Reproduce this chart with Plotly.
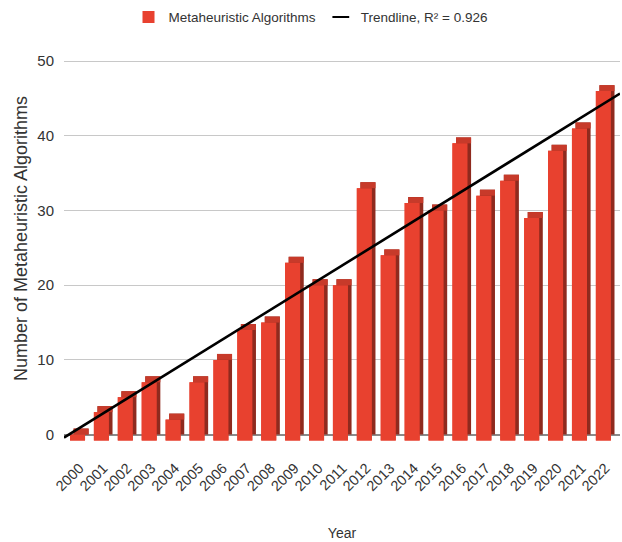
import numpy as np
import plotly.graph_objects as go

# Number of metaheuristic algorithms introduced per year
years = list(range(2000, 2023))
counts = [0, 3, 5, 7, 2, 7, 10, 14, 15, 23, 20, 20, 33, 24, 31, 30, 39, 32, 34, 29, 38, 41, 46]
y_ticks = [0, 10, 20, 30, 40, 50]

series_name = "Metaheuristic Algorithms"
trend_name = "Trendline, R\u00b2 = 0.926"
y_title = "Number of Metaheuristic Algorithms"

# pseudo-3D look: depth of the bar boxes
DEPTH_Y = 0.8
BAR_W = 0.63
FRONT = "#E8412F"
TOP = "#C73A2A"
SIDE = "#8F2A1E"

SANS = "Liberation Sans, Arial, Helvetica, sans-serif"
TXT = "#333333"

x_range = [1999.35, 2022.61]

# linear trend through the yearly counts
idx = np.arange(len(years))
slope, intercept = np.polyfit(idx, counts, 1)
tx = np.array(x_range)
ty = intercept + slope * (tx - years[0]) + DEPTH_Y

fig = go.Figure()

# front faces (legend entry)
fig.add_trace(go.Bar(
    x=years, y=[c + DEPTH_Y for c in counts], base=[-DEPTH_Y] * len(counts),
    width=BAR_W, offset=-0.40, marker=dict(color=FRONT, line=dict(width=0)),
    name=series_name, legendrank=1, hoverinfo="skip",
))
# right side faces
fig.add_trace(go.Bar(
    x=years, y=[c + DEPTH_Y for c in counts], base=[0] * len(counts),
    width=BAR_W, offset=-0.25, marker=dict(color=SIDE, line=dict(width=0)),
    showlegend=False, hoverinfo="skip",
))
# top faces
fig.add_trace(go.Bar(
    x=years, y=[DEPTH_Y] * len(counts), base=counts,
    width=BAR_W, offset=-0.25, marker=dict(color=TOP, line=dict(width=0)),
    showlegend=False, hoverinfo="skip",
))
# front faces again so they sit on top of the depth faces
fig.add_trace(go.Bar(
    x=years, y=[c + DEPTH_Y for c in counts], base=[-DEPTH_Y] * len(counts),
    width=BAR_W, offset=-0.40, marker=dict(color=FRONT, line=dict(width=0)),
    showlegend=False, hovertemplate="%{x}: %{customdata}<extra></extra>",
    customdata=counts,
))

fig.add_trace(go.Scatter(
    x=tx, y=ty, mode="lines", line=dict(color="black", width=2.6),
    showlegend=False, hoverinfo="skip",
))
# legend key for the trendline
fig.add_trace(go.Scatter(
    x=[None], y=[None], mode="markers", name=trend_name, legendrank=2,
    marker=dict(symbol="line-ew", size=12, color="black",
                line=dict(width=5, color="black")),
))

fig.add_annotation(
    text=y_title, textangle=-90, showarrow=False,
    xref="paper", yref="paper", x=-43 / 556, y=0.53,
    xanchor="center", yanchor="middle",
    font=dict(family=SANS, size=18, color=TXT),
)

fig.update_layout(
    width=622, height=542,
    margin=dict(l=64, r=2, t=59, b=100),
    paper_bgcolor="white", plot_bgcolor="white",
    barmode="overlay",
    font=dict(family=SANS, size=13, color=TXT),
    legend=dict(
        orientation="h", xref="container", yref="container",
        x=0.5, xanchor="center", y=0.997, yanchor="top",
        font=dict(family=SANS, size=13.5, color=TXT),
        itemsizing="constant", traceorder="normal",
    ),
    xaxis=dict(
        range=x_range, tickmode="array", tickvals=years,
        ticktext=[str(y) for y in years], tickangle=-45,
        ticks="outside", ticklen=11, tickcolor="rgba(0,0,0,0)",
        tickfont=dict(family=SANS, size=14.5, color=TXT),
        showgrid=False, zeroline=False, showline=False,
        title=dict(text="Year", standoff=34,
                   font=dict(family=SANS, size=14, color=TXT)),
    ),
    yaxis=dict(
        range=[-1.0, 50.3], tickmode="array", tickvals=y_ticks,
        ticks="outside", ticklen=6, tickcolor="rgba(0,0,0,0)",
        tickfont=dict(family=SANS, size=15, color=TXT),
        showgrid=True, gridcolor="#c8c8c8", gridwidth=1.2,
        zeroline=True, zerolinecolor="#8a8a8a", zerolinewidth=1.5,
        showline=False,
    ),
)

fig.write_html("out.html")
